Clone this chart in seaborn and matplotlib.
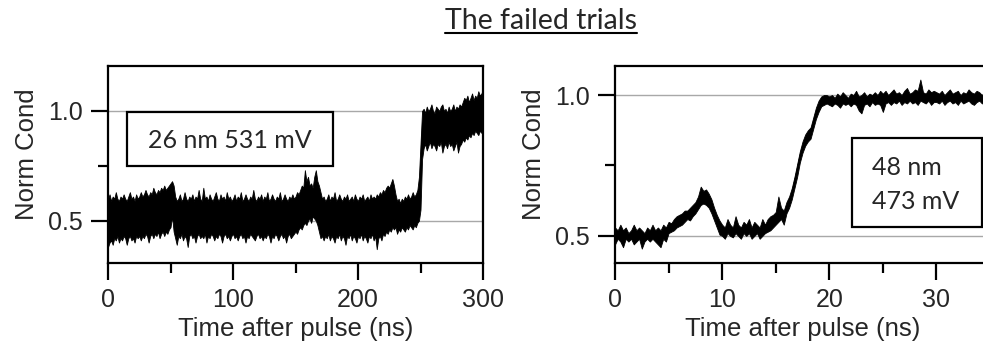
import numpy as np
import pandas as pd
import matplotlib
matplotlib.use("Agg")
import matplotlib.pyplot as plt
import seaborn as sns
from matplotlib.patches import Rectangle
from matplotlib.lines import Line2D
from matplotlib.ticker import MultipleLocator, FixedLocator

# ---------------- data ----------------
title_text = "The failed trials"
left_label = "26 nm 531 mV"
right_label_lines = ["48 nm", "473 mV"]
x_label = "Time after pulse (ns)"
y_label = "Norm Cond"

# left trial: upper / lower edge of the noisy trace, every 1.25 ns, 0..300 ns
left_time = np.arange(241) * 1.25
left_upper = [
    0.60, 0.62, 0.59, 0.61, 0.60, 0.63, 0.60, 0.59, 0.61, 0.60, 0.62, 0.60, 0.59, 0.61, 0.63, 0.60, 0.61, 0.59, 0.62, 0.60,
    0.61, 0.63, 0.61, 0.62, 0.64, 0.62, 0.61, 0.63, 0.62, 0.65, 0.63, 0.62, 0.64, 0.63, 0.65, 0.64, 0.66, 0.64, 0.65, 0.66,
    0.67, 0.68, 0.66, 0.61, 0.59, 0.60, 0.62, 0.59, 0.60, 0.63, 0.60, 0.59, 0.61, 0.60, 0.62, 0.59, 0.61, 0.60, 0.64, 0.60,
    0.59, 0.65, 0.60, 0.61, 0.59, 0.62, 0.60, 0.59, 0.61, 0.63, 0.60, 0.59, 0.62, 0.60, 0.61, 0.59, 0.63, 0.60, 0.61, 0.59,
    0.60, 0.62, 0.59, 0.61, 0.60, 0.63, 0.59, 0.60, 0.62, 0.60, 0.59, 0.61, 0.60, 0.64, 0.60, 0.59, 0.61, 0.60, 0.62, 0.59,
    0.61, 0.60, 0.63, 0.59, 0.60, 0.62, 0.60, 0.59, 0.61, 0.60, 0.63, 0.59, 0.60, 0.62, 0.60, 0.59, 0.61, 0.60, 0.62, 0.60,
    0.61, 0.63, 0.62, 0.64, 0.66, 0.65, 0.73, 0.68, 0.70, 0.66, 0.67, 0.65, 0.70, 0.73, 0.68, 0.66, 0.63, 0.60, 0.61, 0.59,
    0.60, 0.62, 0.59, 0.61, 0.60, 0.63, 0.59, 0.60, 0.62, 0.60, 0.59, 0.61, 0.60, 0.62, 0.59, 0.60, 0.61, 0.59, 0.62, 0.60,
    0.59, 0.61, 0.60, 0.62, 0.59, 0.60, 0.61, 0.59, 0.62, 0.60, 0.61, 0.60, 0.62, 0.61, 0.63, 0.62, 0.64, 0.63, 0.65, 0.66,
    0.65, 0.67, 0.69, 0.66, 0.62, 0.59, 0.60, 0.58, 0.60, 0.59, 0.61, 0.60, 0.62, 0.60, 0.61, 0.63, 0.61, 0.62, 0.64, 0.70,
    0.85, 1.00, 1.01, 0.99, 1.02, 1.00, 1.01, 1.03, 1.00, 0.99, 1.02, 1.01, 1.00, 1.02, 1.03, 1.00, 1.01, 0.99, 1.02, 1.00,
    1.01, 1.03, 1.00, 1.02, 1.01, 1.03, 1.02, 1.04, 1.06, 1.05, 1.07, 1.04, 1.06, 1.08, 1.05, 1.07, 1.06, 1.09, 1.07, 1.08,
    1.10,
]
left_lower = [
    0.38, 0.40, 0.41, 0.39, 0.42, 0.41, 0.43, 0.40, 0.42, 0.41, 0.43, 0.42, 0.39, 0.42, 0.43, 0.41, 0.42, 0.40, 0.43, 0.42,
    0.43, 0.41, 0.43, 0.42, 0.44, 0.43, 0.40, 0.43, 0.44, 0.42, 0.44, 0.43, 0.45, 0.42, 0.44, 0.45, 0.43, 0.45, 0.44, 0.46,
    0.47, 0.52, 0.45, 0.42, 0.39, 0.43, 0.42, 0.44, 0.41, 0.43, 0.42, 0.38, 0.43, 0.44, 0.42, 0.43, 0.40, 0.43, 0.44, 0.42,
    0.43, 0.42, 0.44, 0.40, 0.43, 0.42, 0.44, 0.43, 0.41, 0.43, 0.42, 0.44, 0.43, 0.40, 0.43, 0.44, 0.42, 0.43, 0.41, 0.43,
    0.44, 0.42, 0.43, 0.41, 0.43, 0.44, 0.42, 0.43, 0.40, 0.43, 0.42, 0.44, 0.43, 0.42, 0.41, 0.43, 0.44, 0.42, 0.43, 0.41,
    0.43, 0.42, 0.44, 0.43, 0.40, 0.43, 0.42, 0.44, 0.43, 0.41, 0.43, 0.44, 0.42, 0.43, 0.40, 0.43, 0.44, 0.42, 0.43, 0.44,
    0.45, 0.44, 0.46, 0.47, 0.46, 0.48, 0.49, 0.48, 0.50, 0.51, 0.49, 0.52, 0.51, 0.50, 0.48, 0.45, 0.42, 0.43, 0.41, 0.43,
    0.42, 0.44, 0.41, 0.43, 0.42, 0.40, 0.43, 0.42, 0.44, 0.41, 0.43, 0.42, 0.39, 0.43, 0.42, 0.44, 0.41, 0.43, 0.42, 0.40,
    0.43, 0.42, 0.44, 0.41, 0.43, 0.42, 0.40, 0.43, 0.42, 0.44, 0.41, 0.43, 0.37, 0.42, 0.43, 0.41, 0.44, 0.43, 0.45, 0.44,
    0.46, 0.45, 0.47, 0.46, 0.47, 0.44, 0.46, 0.45, 0.47, 0.46, 0.45, 0.47, 0.46, 0.48, 0.47, 0.46, 0.48, 0.47, 0.49, 0.50,
    0.55, 0.78, 0.83, 0.85, 0.82, 0.84, 0.86, 0.83, 0.85, 0.84, 0.82, 0.85, 0.84, 0.86, 0.81, 0.84, 0.85, 0.83, 0.86, 0.84,
    0.85, 0.82, 0.84, 0.86, 0.81, 0.84, 0.85, 0.87, 0.86, 0.88, 0.87, 0.89, 0.88, 0.90, 0.89, 0.91, 0.90, 0.89, 0.91, 0.90,
    0.91,
]

# right trial: upper / lower edge of the noisy trace, every 0.25 ns, 0..34.75 ns
right_time = np.arange(140) * 0.25
right_upper = [
    0.53, 0.52, 0.54, 0.52, 0.53, 0.51, 0.52, 0.54, 0.52, 0.53, 0.52, 0.51, 0.53, 0.52, 0.54, 0.52, 0.53, 0.52, 0.54, 0.53,
    0.55, 0.545, 0.56, 0.57, 0.575, 0.58, 0.59, 0.59, 0.60, 0.61, 0.62, 0.64, 0.675, 0.66, 0.665, 0.65, 0.63, 0.60, 0.575, 0.555,
    0.54, 0.53, 0.56, 0.54, 0.53, 0.57, 0.54, 0.53, 0.55, 0.54, 0.56, 0.53, 0.55, 0.54, 0.53, 0.56, 0.54, 0.56, 0.57, 0.575,
    0.585, 0.64, 0.60, 0.59, 0.62, 0.64, 0.67, 0.71, 0.755, 0.80, 0.835, 0.86, 0.875, 0.885, 0.92, 0.955, 0.98, 0.995, 1.00, 1.00,
    0.995, 1.00, 0.99, 1.005, 0.995, 1.01, 1.00, 0.99, 1.005, 1.00, 1.015, 0.995, 1.00, 1.01, 0.995, 1.005, 1.00, 1.01, 1.00, 1.015,
    1.005, 1.015, 1.00, 1.01, 1.02, 1.005, 1.01, 1.00, 1.015, 1.025, 1.005, 1.01, 1.02, 1.015, 1.055, 1.01, 1.005, 1.02, 1.01, 1.015,
    1.01, 1.005, 1.015, 1.00, 1.01, 1.02, 1.005, 1.01, 1.015, 1.00, 1.01, 1.005, 1.02, 1.01, 1.005, 1.015, 1.01, 1.00, 1.015, 1.01,
]
right_lower = [
    0.47, 0.49, 0.48, 0.46, 0.49, 0.48, 0.49, 0.47, 0.48, 0.49, 0.455, 0.48, 0.49, 0.48, 0.49, 0.48, 0.47, 0.46, 0.49, 0.48,
    0.51, 0.515, 0.52, 0.53, 0.535, 0.54, 0.55, 0.56, 0.555, 0.57, 0.58, 0.595, 0.61, 0.615, 0.61, 0.60, 0.58, 0.555, 0.53, 0.505,
    0.50, 0.49, 0.51, 0.50, 0.495, 0.51, 0.50, 0.49, 0.51, 0.50, 0.51, 0.49, 0.50, 0.51, 0.49, 0.50, 0.51, 0.515, 0.52, 0.53,
    0.54, 0.55, 0.56, 0.54, 0.58, 0.60, 0.63, 0.67, 0.71, 0.76, 0.795, 0.82, 0.835, 0.845, 0.88, 0.915, 0.94, 0.96, 0.965, 0.97,
    0.965, 0.96, 0.97, 0.965, 0.955, 0.97, 0.965, 0.97, 0.96, 0.97, 0.965, 0.945, 0.935, 0.965, 0.97, 0.96, 0.975, 0.965, 0.97, 0.965,
    0.94, 0.97, 0.975, 0.965, 0.975, 0.97, 0.98, 0.965, 0.975, 0.97, 0.98, 0.97, 0.975, 0.965, 0.98, 0.975, 0.97, 0.98, 0.965, 0.975,
    0.975, 0.97, 0.98, 0.965, 0.975, 0.98, 0.97, 0.975, 0.965, 0.98, 0.97, 0.975, 0.98, 0.97, 0.965, 0.975, 0.98, 0.97, 0.975, 0.97,
]

y_ticks = [0.5, 1.0]
y_minor = [0.75]

# ---------------- style ----------------
sns.set_style("ticks")
plt.rcParams['font.family'] = ['Liberation Sans', 'DejaVu Sans']
W, H = 983, 351
fig = plt.figure(figsize=(W / 100, H / 100), dpi=100)

ax1 = fig.add_axes([108 / W, 1 - 263 / H, 375 / W, 197 / H])
ax2 = fig.add_axes([615 / W, 1 - 263 / H, 375 / W, 197 / H])


def trace(ax, t, up, lo, lw):
    df = pd.DataFrame({"time": np.concatenate([t, t]),
                       "cond": np.concatenate([up, lo])})
    sns.lineplot(data=df, x="time", y="cond", ax=ax, color="black",
                 estimator="mean", errorbar=("pi", 100), linewidth=lw,
                 err_kws={"alpha": 1, "linewidth": 0.6, "edgecolor": "black"})


trace(ax1, left_time, left_upper, left_lower, 0.8)
trace(ax2, right_time, right_upper, right_lower, 0.8)

ax1.set_xlim(0, 300)
ax1.set_ylim(0.307, 1.205)
ax1.xaxis.set_major_locator(MultipleLocator(100))
ax1.xaxis.set_minor_locator(MultipleLocator(50))

ax2.set_xlim(0, 35)
ax2.set_ylim(0.404, 1.103)
ax2.xaxis.set_major_locator(MultipleLocator(10))
ax2.xaxis.set_minor_locator(MultipleLocator(5))

for ax in (ax1, ax2):
    ax.yaxis.set_major_locator(FixedLocator(y_ticks))
    ax.yaxis.set_minor_locator(FixedLocator(y_minor))
    ax.set_yticklabels([f"{v:.1f}" for v in y_ticks])
    ax.yaxis.grid(True, which="major", color="#a8a8a8", linewidth=1.0)
    ax.xaxis.grid(False)
    ax.set_axisbelow(True)
    for s in ax.spines.values():
        s.set_visible(True)
        s.set_color("black")
        s.set_linewidth(1.6)
    ax.tick_params(which="major", direction="out", length=12, width=1.6,
                   labelsize=18, pad=6, color="black")
    ax.tick_params(which="minor", direction="out", length=7, width=1.6,
                   color="black")
    ax.tick_params(top=False, right=False, which="both")
    ax.set_xlabel(x_label, fontsize=18.5)
    ax.set_ylabel(y_label, fontsize=18.5)
    ax.xaxis.set_label_coords(0.5, -0.274)
    ax.yaxis.set_label_coords(-0.185, 0.553)

# annotation boxes
fig.add_artist(Rectangle((127 / W, 1 - 166 / H), 206 / W, 54 / H,
                         transform=fig.transFigure, fill=False,
                         edgecolor="black", linewidth=1.6))
fig.text(230 / W, 1 - 148.3 / H, left_label, ha="center", va="baseline",
         fontsize=18, family=["Lato", "DejaVu Sans"])

fig.add_artist(Rectangle((852 / W, 1 - 227 / H), 130 / W, 89 / H,
                         transform=fig.transFigure, fill=False,
                         edgecolor="black", linewidth=1.6))
fig.text(872 / W, 1 - 175 / H, right_label_lines[0], ha="left", va="baseline",
         fontsize=18, family=["Lato", "DejaVu Sans"])
fig.text(872 / W, 1 - 209 / H, right_label_lines[1], ha="left", va="baseline",
         fontsize=18, family=["Lato", "DejaVu Sans"])

# underlined title
ttl = fig.text(541 / W, 1 - 29 / H, title_text, ha="center", va="baseline",
               fontsize=20.5, family=["Lato", "DejaVu Sans"])
fig.canvas.draw()
bb = ttl.get_window_extent(fig.canvas.get_renderer())
fig.add_artist(Line2D([bb.x0 / W, bb.x1 / W], [1 - 32.5 / H, 1 - 32.5 / H],
                      transform=fig.transFigure, color="black", linewidth=1.5))

fig.savefig("out.png", dpi=100)
